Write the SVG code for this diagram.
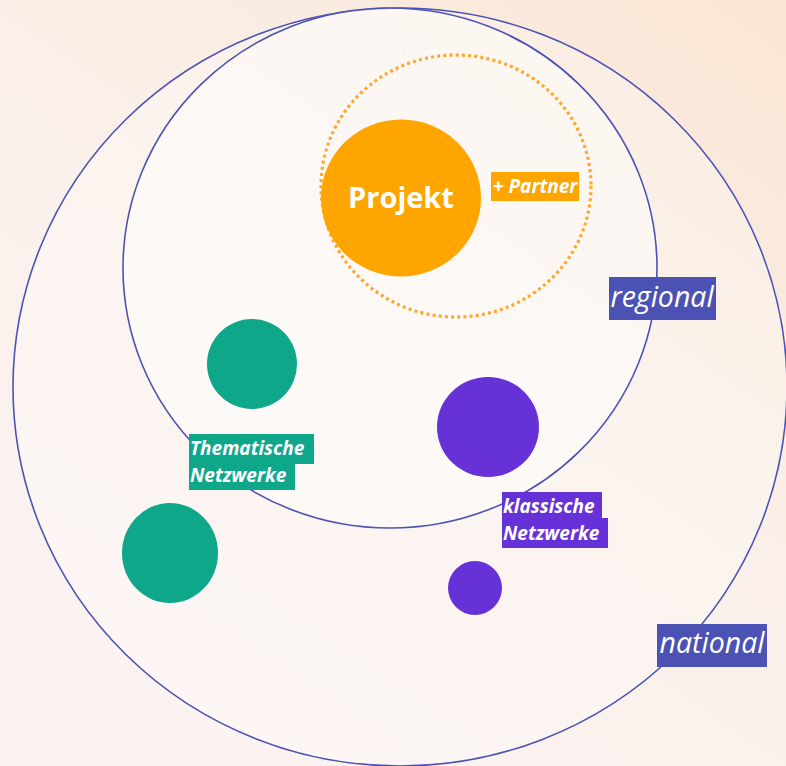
<svg xmlns="http://www.w3.org/2000/svg" width="786" height="766" viewBox="0 0 786 766">
  <defs>
    <linearGradient id="bg" x1="1" y1="0" x2="0.3" y2="1">
      <stop offset="0" stop-color="#f9e5d4"/>
      <stop offset="0.5" stop-color="#faf0e9"/>
      <stop offset="1" stop-color="#fbf3f2"/>
    </linearGradient>
    <style>
      .ring { fill: none; stroke: #4c52b4; stroke-width: 1.6; }
      .zone { fill: #ffffff; }
      .lbl { fill: #ffffff; font-family: "Open Sans", "Noto Sans", sans-serif; }
      .bi { font-weight: 700; font-style: italic; font-size: 19px; }
      .it { font-style: italic; font-size: 28.5px; }
      .green { fill: #0ea78a; }
      .purple { fill: #6731d8; }
      .orange { fill: #ffa500; }
      .blue { fill: #4c52b4; }
    </style>
  </defs>

  <rect width="786" height="766" fill="url(#bg)"/>

  <!-- scope zones -->
  <g id="national-zone">
    <ellipse class="zone" cx="400" cy="387" rx="387" ry="379" fill-opacity="0.25"/>
    <ellipse class="ring" cx="400" cy="387" rx="387" ry="379"/>
  </g>
  <g id="regional-zone">
    <ellipse class="zone" cx="390" cy="268" rx="267" ry="260" fill-opacity="0.45"/>
    <ellipse class="ring" cx="390" cy="268" rx="267" ry="260"/>
  </g>

  <!-- partner boundary -->
  <g id="partner-ring">
    <ellipse cx="456" cy="186" rx="135" ry="131" fill="none" stroke="#ffa62b" stroke-width="3.2" stroke-dasharray="3 3.2"/>
  </g>

  <g id="projekt">
    <ellipse class="orange" cx="401" cy="198" rx="80" ry="78.5"/>
    <text class="lbl" x="401" y="208" text-anchor="middle" font-weight="700" font-size="29">Projekt</text>
  </g>

  <g id="partner-label">
    <rect class="orange" x="491" y="172" width="88" height="29"/>
    <text class="lbl bi" x="535" y="193" text-anchor="middle">+ Partner</text>
  </g>

  <g id="network-thematic-1">
    <circle class="green" cx="252" cy="364" r="45"/>
  </g>
  <g id="network-thematic-2">
    <ellipse class="green" cx="170" cy="553" rx="48" ry="50"/>
  </g>
  <g id="thematic-label">
    <rect class="green" x="189" y="434" width="125" height="30"/>
    <rect class="green" x="189" y="463" width="106" height="27"/>
    <text class="lbl bi" x="190" y="455">Thematische</text>
    <text class="lbl bi" x="190" y="482">Netzwerke</text>
  </g>

  <g id="network-classic-1">
    <ellipse class="purple" cx="488" cy="427" rx="51" ry="50"/>
  </g>
  <g id="network-classic-2">
    <circle class="purple" cx="475" cy="588" r="27"/>
  </g>
  <g id="classic-label">
    <rect class="purple" x="502" y="492" width="100" height="27"/>
    <rect class="purple" x="502" y="518" width="106" height="30"/>
    <text class="lbl bi" x="503" y="513">klassische</text>
    <text class="lbl bi" x="503" y="540">Netzwerke</text>
  </g>

  <g id="regional-label">
    <rect class="blue" x="609" y="277" width="107" height="43"/>
    <text class="lbl it" x="662" y="307" text-anchor="middle">regional</text>
  </g>
  <g id="national-label">
    <rect class="blue" x="657" y="624" width="110" height="43"/>
    <text class="lbl it" x="712" y="653" text-anchor="middle">national</text>
  </g>

  <g id="connectors"/>
</svg>
